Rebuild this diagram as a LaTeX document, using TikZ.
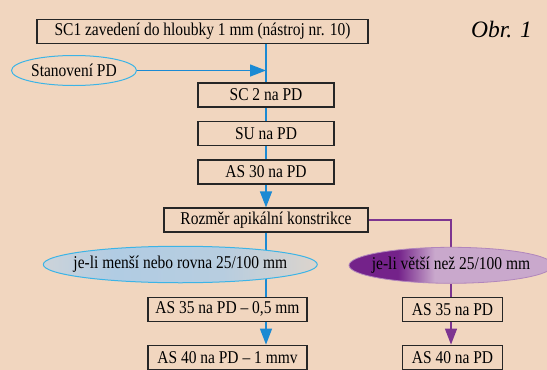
\documentclass[tikz,border=0pt]{standalone}
\usepackage{fontspec}
\setmainfont{Liberation Serif}
\newfontfamily\boxfont[FakeStretch=0.86]{Liberation Serif}
\usetikzlibrary{shapes.geometric,arrows.meta}
\pgfdeclarelayer{bg}
\pgfdeclarelayer{lines}
\pgfsetlayers{bg,lines,main}
\definecolor{peach}{HTML}{F1D6BF}
\definecolor{bline}{HTML}{1B8AD3}
\definecolor{cyanline}{HTML}{3CB4E6}
\definecolor{pline}{HTML}{7D3590}
\definecolor{pdark}{HTML}{74228A}
\definecolor{plight}{HTML}{C9A8CC}
\definecolor{bgrayL}{HTML}{CDD3D9}
\definecolor{bblue}{HTML}{B1CCE3}
\definecolor{bgrayR}{HTML}{DCD4CC}
\pgfdeclarehorizontalshading{purpshade}{100bp}{color(0bp)=(pdark); color(25bp)=(pdark); color(37bp)=(pdark); color(46bp)=(plight); color(75bp)=(plight); color(100bp)=(plight)}
\pgfdeclarehorizontalshading{blueshade}{100bp}{color(0bp)=(bgrayL); color(25bp)=(bgrayL); color(38bp)=(bblue); color(58bp)=(bblue!85!bgrayR); color(75bp)=(bgrayR); color(100bp)=(bgrayR)}
\tikzset{
  stepbox/.style={draw=black!85, line width=1.2pt, fill=peach, minimum height=24pt, inner sep=0pt, font=\boxfont\fontsize{18}{20}\selectfont},
  blueline/.style={draw=bline, line width=1.4pt},
  purpline/.style={draw=pline, line width=1.4pt},
  barrow/.style={blueline, -{Triangle[length=16pt,width=12pt]}},
  parrow/.style={purpline, -{Triangle[length=16pt,width=12pt]}},
  ovalbox/.style={ellipse, inner sep=0pt},
  ovaltext/.style={inner sep=0pt, font=\boxfont\fontsize{18}{20}\selectfont},
}
\begin{document}
\begin{tikzpicture}[x=1pt,y=-1pt]
\begin{pgfonlayer}{bg}
\fill[peach] (0,0) rectangle (547,370);
\end{pgfonlayer}
\useasboundingbox (0,0) rectangle (547,370);
\clip (0,0) rectangle (547,370);
\node[stepbox, minimum width=331pt] (top) at (202.5,31.5) {SC1 zavedení do hloubky 1 mm (nástroj nr. 10)};
\node[font=\itshape\fontsize{23.5}{26}\selectfont, inner sep=0pt] (obr) at (501.5,30) {Obr. 1};
\node[ovalbox, draw=cyanline, line width=1pt, minimum width=125pt, minimum height=30pt] (stan) at (74,70.5) {};
\node[ovaltext] (stant) at (stan) {Stanovení PD};
\node[stepbox, minimum width=136pt] (sc2) at (266,95) {SC 2 na PD};
\node[stepbox, minimum width=136pt] (su) at (266,133.5) {SU na PD};
\node[stepbox, minimum width=136pt] (as30) at (266,172) {AS 30 na PD};
\node[stepbox, minimum width=204pt] (rozm) at (266,220) {Rozměr apikální konstrikce};
\node[ovalbox, draw=cyanline, line width=1pt, minimum width=274pt, minimum height=36.5pt,
  shading=blueshade] (ell1) at (180.3,264.5) {};
\node[ovaltext] (ell1t) at (ell1) {je-li menší nebo rovna 25/100 mm};
\node[ovalbox, draw=pline!60, line width=0.8pt, minimum width=204pt, minimum height=36pt,
  shading=purpshade] (ell2) at (451,265.3) {};
\node[ovaltext] (ell2t) at (ell2) {je-li větší než 25/100 mm};
\node[stepbox, minimum width=159pt] (as35l) at (227.5,309.3) {AS 35 na PD – 0,5 mm};
\node[stepbox, minimum width=159pt] (as40l) at (227.5,357.2) {AS 40 na PD – 1 mmv};
\node[stepbox, minimum width=100pt] (as35r) at (452.5,309.3) {AS 35 na PD};
\node[stepbox, minimum width=100pt] (as40r) at (452.5,357.2) {AS 40 na PD};
\begin{pgfonlayer}{lines}
\draw[blueline] (top.south -| sc2) -- (sc2.north);
\draw[barrow] (stan.east) -- (stan.east -| sc2.north);
\draw[blueline] (sc2) -- (su);
\draw[blueline] (su) -- (as30);
\draw[barrow] (as30.south) -- (rozm.north);
\draw[blueline] (rozm.south) -- (rozm.south |- as35l.north);
\draw[barrow] (as35l.south -| rozm) -- (as40l.north -| rozm);
\draw[purpline] (rozm.east) -| (ell2.north);
\draw[purpline] (ell2.south) -- (ell2.south |- as35r.north);
\draw[parrow] (as35r.south -| ell2) -- (as40r.north -| ell2);
\end{pgfonlayer}
\end{tikzpicture}
\end{document}
